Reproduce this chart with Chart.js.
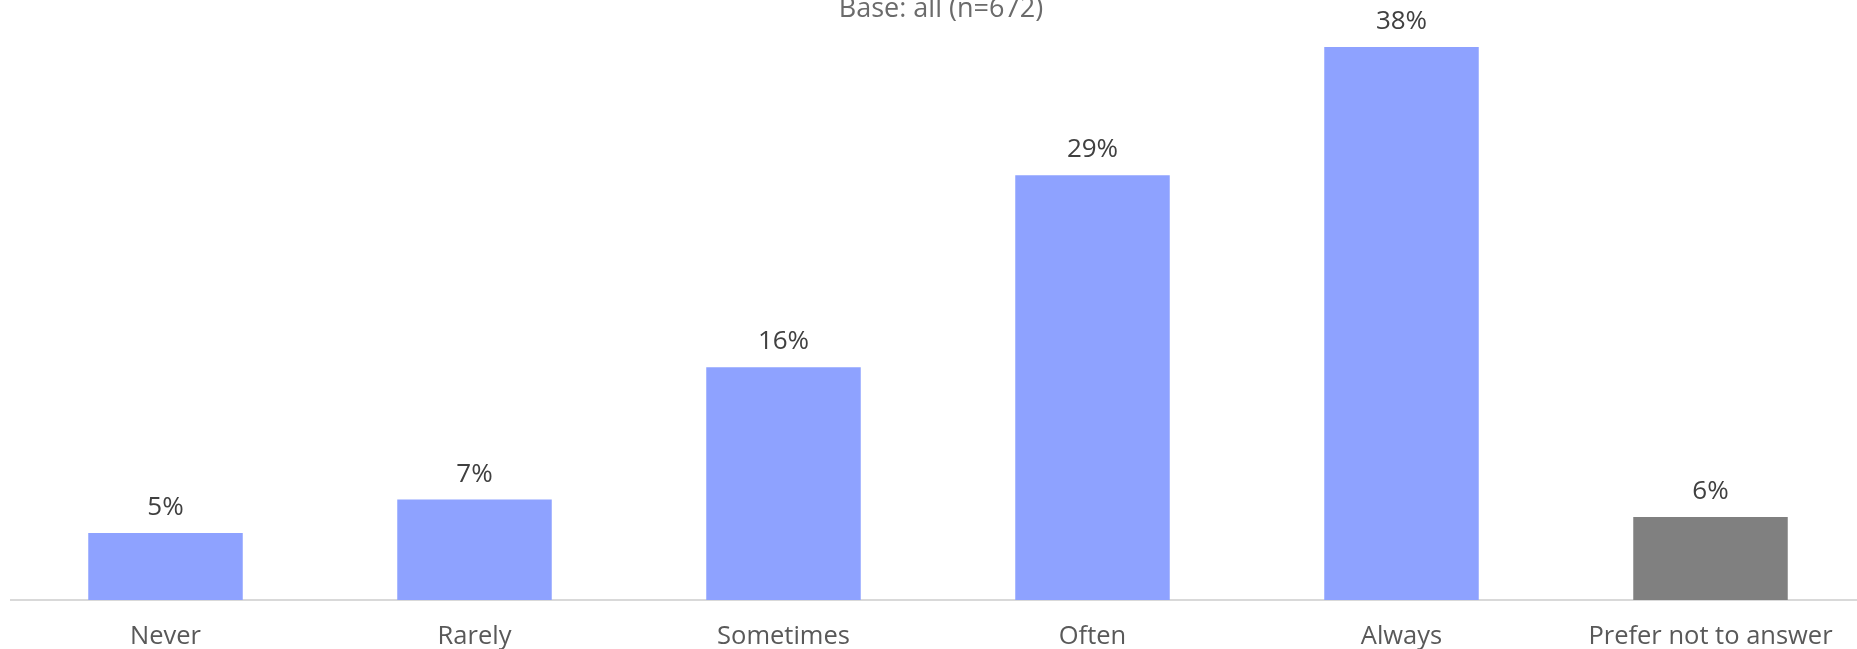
<!DOCTYPE html>
<html>
<head>
<meta charset="utf-8">
<script src="https://cdn.jsdelivr.net/npm/chart.js@4"></script>
<style>
	html, body { margin: 0; padding: 0; background: #fff; overflow: hidden; }
	#wrap { position: relative; width: 1857px; height: 649px; overflow: hidden; }
</style>
</head>
<body>
<!-- plot runs a few px past the right edge in the source, so the canvas is a bit wider than the window -->
<div id="wrap"><canvas id="frequency-chart" width="1865" height="649"></canvas></div>
<script>
let categories = ["Never", "Rarely", "Sometimes", "Often", "Always", "Prefer not to answer"]
let shares = [4.6, 6.9, 16.0, 29.2, 38.0, 5.7]
let barColours = ["#8ea2ff", "#8ea2ff", "#8ea2ff", "#8ea2ff", "#8ea2ff", "#808080"]
let subtitle = "Base: all (n=672)"

let fontFamily = "'Open Sans', Lato, sans-serif"

// subtitle sits partly above the top edge, like in the source
let subtitlePlugin = {
	id: 'subtitleText',
	afterDraw(chart) {
		let ctx = chart.ctx
		ctx.save()
		ctx.font = "27px " + fontFamily
		ctx.fillStyle = "#6b6b6b"
		ctx.textAlign = "center"
		ctx.textBaseline = "alphabetic"
		ctx.fillText(subtitle, 941, 17)
		ctx.restore()
	}
}

let valueLabels = {
	id: 'valueLabels',
	afterDatasetsDraw(chart) {
		let ctx = chart.ctx
		let meta = chart.getDatasetMeta(0)
		ctx.save()
		ctx.font = "26px " + fontFamily
		ctx.fillStyle = "#404040"
		ctx.textAlign = "center"
		ctx.textBaseline = "alphabetic"
		meta.data.forEach(function (bar, i) {
			ctx.fillText(Math.round(shares[i]) + "%", bar.x, bar.y - 18)
		})
		ctx.restore()
	}
}

let frequencyChart = new Chart(document.getElementById("frequency-chart").getContext('2d'), {
	type: 'bar',
	data: {
		labels: categories,
		datasets: [
			{
				label: 'Share',
				data: shares,
				backgroundColor: barColours,
				barPercentage: .5,
				categoryPercentage: 1
			}
		]
	},
	options: {
		responsive: false,
		animation: false,
		layout: {
			padding: { top: 18, left: 11, right: 0, bottom: 0 }
		},
		scales: {
			y: {
				display: false,
				min: 0,
				max: 40
			},
			x: {
				afterFit: function (scale) {
					scale.height = 49
				},
				grid: {
					display: false,
					drawTicks: false
				},
				border: {
					display: true,
					color: "#d9d9d9",
					width: 2
				},
				ticks: {
					color: "#595959",
					padding: 21,
					maxRotation: 0,
					autoSkip: false,
					font: { family: fontFamily, size: 25.5 }
				}
			}
		},
		plugins: {
			legend: { display: false },
			tooltip: { enabled: false }
		}
	},
	plugins: [subtitlePlugin, valueLabels]
});
</script>
</body>
</html>
